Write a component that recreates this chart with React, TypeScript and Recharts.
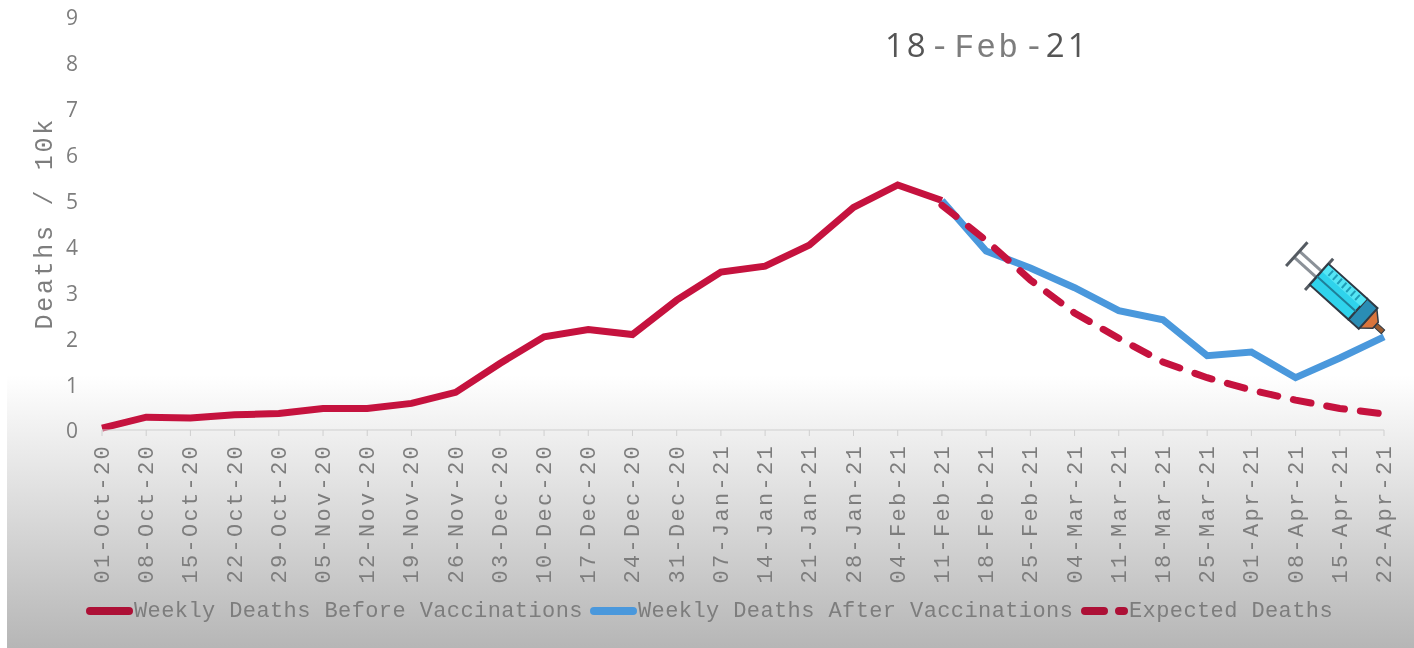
import { LineChart, Line, XAxis, YAxis, Legend, ReferenceDot } from "recharts";

const MONO = '"Liberation Mono", monospace';
const SANS = '"Open Sans", sans-serif';
const GREY = "#7d7d7d";
const RED = "#c5123e";
const LEGEND_RED = "#ad1036";
const BLUE = "#4a98dc";

const weeks = [
  "01-Oct-20", "08-Oct-20", "15-Oct-20", "22-Oct-20", "29-Oct-20",
  "05-Nov-20", "12-Nov-20", "19-Nov-20", "26-Nov-20",
  "03-Dec-20", "10-Dec-20", "17-Dec-20", "24-Dec-20", "31-Dec-20",
  "07-Jan-21", "14-Jan-21", "21-Jan-21", "28-Jan-21",
  "04-Feb-21", "11-Feb-21", "18-Feb-21", "25-Feb-21",
  "04-Mar-21", "11-Mar-21", "18-Mar-21", "25-Mar-21",
  "01-Apr-21", "08-Apr-21", "15-Apr-21", "22-Apr-21",
];

const before = [
  0.04, 0.28, 0.26, 0.33, 0.36, 0.47, 0.47, 0.58, 0.82, 1.45,
  2.03, 2.19, 2.08, 2.83, 3.44, 3.57, 4.03, 4.85, 5.34, 5.0,
];
const after = [5.0, 3.9, 3.53, 3.1, 2.6, 2.4, 1.62, 1.7, 1.14, 1.57, 2.03];
const expected = [4.9, 4.13, 3.27, 2.55, 2.0, 1.48, 1.14, 0.87, 0.65, 0.47, 0.35];
const yTicks = [0, 1, 2, 3, 4, 5, 6, 7, 8, 9];

const START_AFTER = before.length - 1;

const data = weeks.map((week, i) => ({
  week,
  before: i < before.length ? before[i] : null,
  after: i >= START_AFTER ? after[i - START_AFTER] : null,
  expected: i >= START_AFTER ? expected[i - START_AFTER] : null,
}));

const legendItems = [
  { name: "Weekly Deaths Before Vaccinations", color: LEGEND_RED, dashed: false, x: 86, w: 47 },
  { name: "Weekly Deaths After Vaccinations", color: BLUE, dashed: false, x: 590, w: 47 },
  { name: "Expected Deaths", color: LEGEND_RED, dashed: true, x: 1081, w: 47 },
];

function WeekTick({ x, y, payload }: any) {
  return (
    <text
      transform={`translate(${x + 7},${y + 6}) rotate(-90)`}
      textAnchor="end"
      fontFamily={MONO}
      fontSize={22}
      letterSpacing={2.3}
      fill={GREY}
    >
      {payload.value}
    </text>
  );
}

function ChartLegend() {
  return (
    <div style={{ position: "relative", width: 1414, height: 68 }}>
      {legendItems.map((item) => (
        <div key={item.name}>
          <svg style={{ position: "absolute", left: item.x, top: 26 }} width={item.w} height={10}>
            <line
              x1={4}
              x2={item.w - 4}
              y1={5}
              y2={5}
              stroke={item.color}
              strokeWidth={8}
              strokeLinecap="round"
              strokeDasharray={item.dashed ? "19 15" : undefined}
            />
          </svg>
          <span
            style={{
              position: "absolute",
              left: item.x + item.w + 1,
              top: 18,
              fontFamily: MONO,
              fontSize: 22,
              letterSpacing: 0.4,
              lineHeight: "28px",
              color: GREY,
              whiteSpace: "nowrap",
            }}
          >
            {item.name}
          </span>
        </div>
      ))}
    </div>
  );
}

// syringe drawn in its own frame, needle tip at 0,0 and the plunger along -x
function Syringe({ cx, cy }: any) {
  const dark = "#2f3a45";
  const marks = [-78, -72, -66, -60, -54, -48, -42];
  return (
    <g transform={`translate(${cx - 1},${cy - 5}) rotate(42)`}>
      <line x1={-115} x2={-86} y1={-4} y2={-4} stroke="#8b9198" strokeWidth={3} />
      <line x1={-115} x2={-86} y1={4} y2={4} stroke="#8b9198" strokeWidth={3} />
      <line x1={-116} x2={-116} y1={-16} y2={16} stroke="#555b62" strokeWidth={3} />
      <line x1={-86} x2={-86} y1={-21} y2={21} stroke="#555b62" strokeWidth={3} />
      <rect x={-10} y={-2.5} width={10} height={5} fill="#9a5a30" stroke={dark} strokeWidth={1} />
      <polygon points="-10,-4 -10,4 -20,13 -20,-13" fill="#d9743c" stroke={dark} strokeWidth={1.5} />
      <rect x={-34} y={-14} width={14} height={28} fill="#2a8db5" stroke={dark} strokeWidth={2} />
      <rect x={-86} y={-14} width={52} height={28} fill="#2fd3ec" stroke={dark} strokeWidth={2} />
      <rect x={-85} y={-13} width={51} height={9} fill="#55e6f5" />
      <line x1={-86} x2={-34} y1={3} y2={3} stroke="#1f7f98" strokeWidth={2} />
      {marks.map((m) => (
        <line key={m} x1={m} x2={m} y1={-12} y2={-5} stroke="#1f9db8" strokeWidth={2} />
      ))}
    </g>
  );
}

export default function App() {
  return (
    <div style={{ position: "absolute", left: 0, top: 0, width: 1414, height: 648, background: "#fff", overflow: "hidden" }}>
      <div
        style={{
          position: "absolute",
          left: 7,
          top: 375,
          width: 1407,
          height: 273,
          background: "linear-gradient(#ffffff, #e9e9e9 30%, #b6b6b6)",
        }}
      />
      <div style={{ position: "absolute", left: 0, top: 0, filter: "blur(0.6px)" }}>
        <LineChart
          width={1414}
          height={648}
          data={data}
          margin={{ top: 17, right: 30, bottom: 0, left: 62 }}
        >
          <XAxis
            dataKey="week"
            interval={0}
            height={150}
            stroke="#cfcfcf"
            tickSize={6}
            tick={<WeekTick />}
          />
          <YAxis
            domain={[0, 9]}
            ticks={yTicks}
            width={40}
            axisLine={false}
            tickLine={false}
            tickMargin={18}
            tick={{ fontFamily: SANS, fontSize: 21, fill: GREY, dy: 1 }}
            label={{
              value: "Deaths / 10k",
              angle: -90,
              position: "insideLeft",
              dx: -24,
              dy: 106,
              style: { fontFamily: MONO, fontSize: 25, letterSpacing: 2.7, fill: GREY },
            }}
          />
          <Legend verticalAlign="bottom" content={<ChartLegend />} wrapperStyle={{ left: 0, width: 1414 }} />
          <Line dataKey="before" stroke={RED} strokeWidth={7} dot={false} isAnimationActive={false} />
          <Line dataKey="after" stroke={BLUE} strokeWidth={7} dot={false} isAnimationActive={false} />
          <Line
            dataKey="expected"
            stroke={RED}
            strokeWidth={7}
            strokeDasharray="18 16"
            strokeLinecap="round"
            dot={false}
            isAnimationActive={false}
          />
          <ReferenceDot x={weeks[weeks.length - 1]} y={after[after.length - 1]} ifOverflow="visible" shape={<Syringe />} />
        </LineChart>
      </div>
      <div style={{ position: "absolute", left: 885, top: 22, height: 46, lineHeight: "46px", color: "#555", whiteSpace: "nowrap", filter: "blur(0.5px)" }}>
        <span style={{ fontFamily: SANS, fontSize: 33, letterSpacing: 3 }}>18</span>
        <span style={{ fontFamily: MONO, fontSize: 33, color: GREY, marginLeft: 1, letterSpacing: 2 }}>-</span>
        <span style={{ fontFamily: MONO, fontSize: 33, color: GREY, marginLeft: 3, letterSpacing: 2 }}>Feb</span>
        <span style={{ fontFamily: MONO, fontSize: 33, color: GREY, marginLeft: 4 }}>-</span>
        <span style={{ fontFamily: SANS, fontSize: 33, letterSpacing: 3, marginLeft: 2 }}>21</span>
      </div>
    </div>
  );
}
